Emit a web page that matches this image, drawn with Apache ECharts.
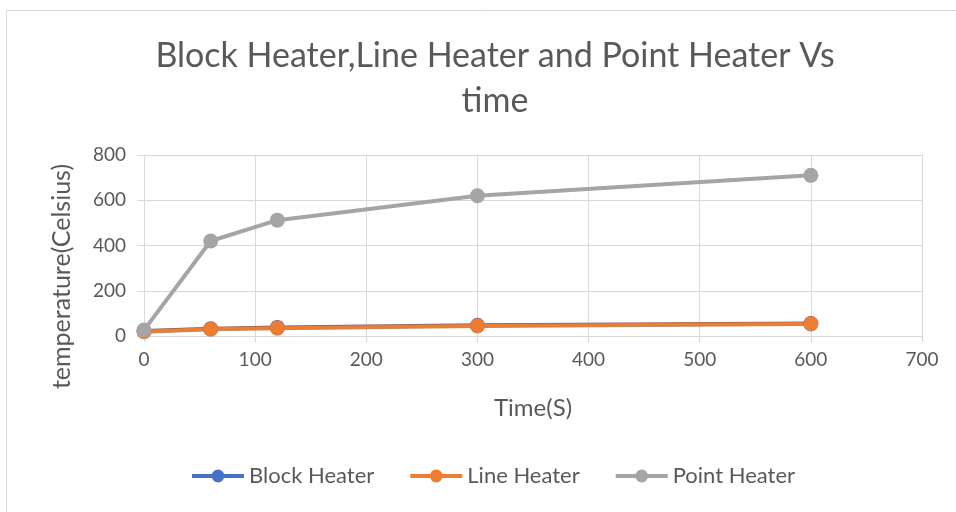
<!DOCTYPE html>
<html><head><meta charset="utf-8">
<script src="https://cdn.jsdelivr.net/npm/echarts@6/dist/echarts.min.js"></script>
<style>html,body{margin:0;padding:0;background:#fff}#c{width:956px;height:512px}</style>
</head><body><div id="c"></div>
<script>
const timeS = [0, 60, 120, 300, 600];
const blockHeater = [22, 32, 38, 47, 55];
const lineHeater = [19, 30, 34, 44, 53];
const pointHeater = [26, 420, 512, 620, 710];
const titleText = 'Block Heater,Line Heater and Point Heater Vs\ntime';
const FONT = 'Lato';
const GRAY = '#595959';
const chart = echarts.init(document.getElementById('c'));
function pairs(ys){ return timeS.map((t,i)=>[t, ys[i]]); }
function mk(name, ys, color){
  return {name, type:'line', data: pairs(ys), symbol:'circle', symbolSize:15,
    lineStyle:{width:4, color}, itemStyle:{color}, emphasis:{disabled:true}};
}
chart.setOption({
  animation:false,
  graphic:[{type:'rect', shape:{x:6.5,y:10.5,width:1000,height:600}, style:{fill:'none', stroke:'#d9d9d9', lineWidth:1}}],
  title:{text:titleText, left:490, top:29, textAlign:'center',
    textStyle:{fontFamily:FONT, fontSize:34, fontWeight:'normal', color:GRAY, lineHeight:45}},
  legend:{bottom:20, left:185, itemWidth:52, itemHeight:16, itemGap:34,
    lineStyle:{width:4},
    textStyle:{fontFamily:FONT, fontSize:22, color:GRAY},
    data:['Block Heater','Line Heater','Point Heater']},
  grid:{left:144, right:34, top:155, bottom:176},
  xAxis:{type:'value', min:0, max:700, interval:100, name:'Time(S)', nameLocation:'middle', nameGap:60,
    nameTextStyle:{fontFamily:FONT, fontSize:24, color:GRAY},
    axisLine:{lineStyle:{color:'#d9d9d9'}}, axisTick:{show:true, length:6, lineStyle:{color:'#d9d9d9'}},
    axisLabel:{fontFamily:FONT, fontSize:19, color:GRAY, margin:14},
    splitLine:{lineStyle:{color:'#d9d9d9'}}},
  yAxis:{type:'value', min:0, max:800, interval:200, name:'temperature(Celsius)', nameLocation:'middle', nameGap:70,
    nameTextStyle:{fontFamily:FONT, fontSize:25, color:GRAY, padding:[0, 62, 0, 0]},
    axisLine:{show:true, lineStyle:{color:'#d9d9d9'}}, axisTick:{show:true, length:7, lineStyle:{color:'#d9d9d9'}},
    axisLabel:{fontFamily:FONT, fontSize:19, color:GRAY, margin:18},
    splitLine:{lineStyle:{color:'#d9d9d9'}}},
  series:[mk('Block Heater', blockHeater, '#4472c4'), mk('Line Heater', lineHeater, '#ed7d31'), mk('Point Heater', pointHeater, '#a5a5a5')]
});
</script></body></html>
